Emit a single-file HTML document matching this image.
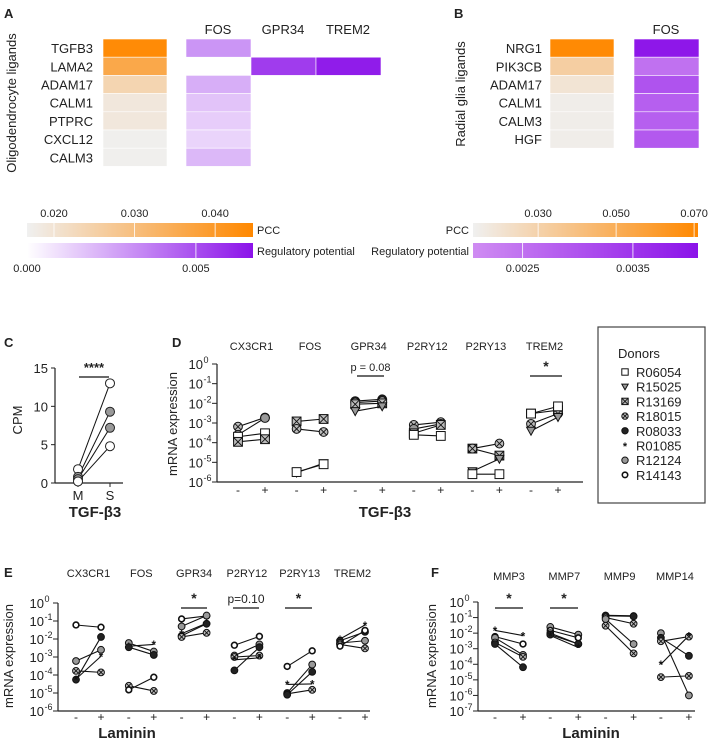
<!DOCTYPE html>
<html><head><meta charset="utf-8"><style>
body{margin:0;background:#fff}
svg{display:block;font-family:"Liberation Sans",Arial,sans-serif}
</style></head><body>
<svg id="fig" width="708" height="744" viewBox="0 0 708 744" xmlns="http://www.w3.org/2000/svg">
<g id="root"></g>
</svg>
<script>
// ---------- Panel A/B heatmap data ----------
const aLigands = ["TGFB3","LAMA2","ADAM17","CALM1","PTPRC","CXCL12","CALM3"];
const aPCC = [0.044,0.036,0.024,0.019,0.019,0.017,0.017];
const aTargets = ["FOS","GPR34","TREM2"];
const aFOS = [0.0030,null,0.0023,0.0017,0.0014,0.0012,0.0020];
const aGPR34 = [null,0.0055,null,null,null,null,null];
const aTREM2 = [null,0.0064,null,null,null,null,null];
const aPccTicks = [0.020,0.030,0.040];
const aRegTicks = [0.000,0.005];
const bLigands = ["NRG1","PIK3CB","ADAM17","CALM1","CALM3","HGF"];
const bPCC = [0.070,0.032,0.020,0.015,0.015,0.015];
const bFOS = [0.0040,0.0025,0.0030,0.0028,0.0028,0.0029];
const bPccTicks = [0.030,0.050,0.070];
const bRegTicks = [0.0025,0.0035];
// ---------- Panel C ----------
const cCats = ["M","S"];
const cM = [1.8,0.8,0.5,0.2];
const cS = [13,9.3,7.2,4.8];
const cFill = ["#fff","#999","#999","#fff"];
const cTicks = [0,5,10,15];
// ---------- Donors ----------
const donors = ["R06054","R15025","R13169","R18015","R08033","R01085","R12124","R14143"];
// ---------- Panel D (TGF-b3) ----------
const dGenes = ["CX3CR1","FOS","GPR34","P2RY12","P2RY13","TREM2"];
const dDonor = [[3,6,0,2],[2,3,1,0],[4,3,2,1],[3,6,2,0],[2,3,1,0],[2,3,0,1]];
const dMinus = [[6.5e-4,2.5e-4,2e-4,1.1e-4],[1.2e-3,5e-4,3e-6,3.2e-6],[1.3e-2,1.1e-2,9e-3,4e-3],[8e-4,5e-4,3e-4,2.5e-4],[5e-5,5e-5,3.5e-6,2.5e-6],[3e-3,9e-4,3e-3,4e-4]];
const dPlus  = [[1.9e-3,1.8e-3,3e-4,1.5e-4],[1.6e-3,3.5e-4,9e-6,8e-6],[1.6e-2,1.3e-2,1e-2,7e-3],[1.1e-3,9e-4,8e-4,2.2e-4],[2.2e-5,9e-5,1.5e-5,2.5e-6],[4.5e-3,3e-3,7e-3,2e-3]];
// ---------- Panel E (Laminin) ----------
const eGenes = ["CX3CR1","FOS","GPR34","P2RY12","P2RY13","TREM2"];
const eDonor = [[7,6,3,4,5],[6,5,4,3,7],[7,6,5,4,3],[7,6,3,5,4],[7,6,3,5,4],[5,4,6,3,7]];
const eMinus = [[0.06,6e-4,1.7e-4,5.5e-5,6e-5],[6e-3,4e-3,3.5e-3,2.5e-5,1.5e-5],[0.13,0.05,0.02,0.015,0.013],[4.5e-3,1.2e-3,1e-3,7e-4,1.8e-4],[3e-4,1e-5,9e-6,3e-5,8e-6],[0.01,0.008,0.006,0.005,0.004]];
const ePlus  = [[0.045,2.5e-3,1.4e-4,1.3e-2,1.1e-3],[2e-3,5e-3,1.3e-3,1.3e-5,7.5e-5],[0.19,0.2,0.075,0.07,0.022],[1.4e-2,5e-3,1.2e-3,9e-4,3.5e-3],[2.2e-3,3.8e-4,1.5e-5,3.2e-5,1.5e-4],[0.06,0.025,0.008,0.003,0.03]];
// ---------- Panel F (Laminin, MMPs) ----------
const fGenes = ["MMP3","MMP7","MMP9","MMP14"];
const fDonor = [[5,7,6,3,4],[6,7,3,4,5],[7,4,3,6,3],[6,4,3,5,3]];
const fMinus = [[0.015,0.006,0.005,0.0025,0.002],[0.025,0.015,0.01,0.008,0.007],[0.14,0.13,0.1,0.08,0.03],[0.01,0.005,0.003,1e-4,1.5e-5]];
const fPlus  = [[0.007,0.002,4e-4,3e-4,6.5e-5],[0.008,0.005,0.002,0.002,0.0012],[0.13,0.12,0.04,0.002,5e-4],[1e-6,3.5e-4,0.006,0.007,1.8e-5]];

const NS="http://www.w3.org/2000/svg";
const root=document.getElementById('root');
function el(tag,attrs,parent,text){const e=document.createElementNS(NS,tag);for(const k in attrs)e.setAttribute(k,attrs[k]);if(text!==undefined)e.textContent=text;(parent||root).appendChild(e);return e;}
function mix(c1,c2,t){t=Math.max(0,Math.min(1,t));const a=[1,3,5].map(i=>parseInt(c1.substr(i,2),16)),b=[1,3,5].map(i=>parseInt(c2.substr(i,2),16));return "rgb("+a.map((v,i)=>Math.round(v+(b[i]-v)*t)).join(",")+")";}
function txt(x,y,s,size,anchor,name,extra){const t=el('text',Object.assign({x:x,y:y,'font-size':size,'text-anchor':anchor||'start',fill:'#222'},extra||{}),root,s);return t;}

// ===== Panel A =====
txt(4,18,"A",13,'start','panel-a-label',{'font-weight':'bold'});
txt(454,18,"B",13,'start','panel-b-label',{'font-weight':'bold'});
const rowH=18.2, rowTop=39;
const aPccLo=0.01665,aPccHi=0.0447,aRegHi=0.00669;
aLigands.forEach((g,i)=>{
  const y=rowTop+i*rowH;
  txt(93,y+rowH/2+5,g,13,'end','a-row-label');
  const r=el('rect',{x:103,y:y,width:64,height:rowH,fill:mix("#f0f0f0","#ff8800",(aPCC[i]-aPccLo)/(aPccHi-aPccLo)),stroke:'#fff','stroke-width':0.6});
  
  [aFOS,aGPR34,aTREM2].forEach((arr,j)=>{
    if(arr[i]===null)return;
    const c=el('rect',{x:186+j*65,y:y,width:65,height:rowH,fill:mix("#ffffff","#8b12e9",arr[i]/aRegHi),stroke:'#fff','stroke-width':0.6});
    
  });
});
aTargets.forEach((t,j)=>txt(218+j*65,34,t,13,'middle','a-target-label'));
txt(0,0,"Oligodendrocyte ligands",13,'middle','a-y-axis-title',{transform:'translate(16,103) rotate(-90)'});
(function(){
  const x0=27,x1=253;
  const g=el('defs',{});
  const lg=el('linearGradient',{id:'ga1'},g);el('stop',{offset:0,'stop-color':'#f0f0f0'},lg);el('stop',{offset:1,'stop-color':'#ff8800'},lg);
  const lg2=el('linearGradient',{id:'ga2'},g);el('stop',{offset:0,'stop-color':'#ffffff'},lg2);el('stop',{offset:1,'stop-color':'#8b12e9'},lg2);
  const b1=el('rect',{x:x0,y:223,width:x1-x0,height:14,fill:'url(#ga1)'});
  const b2=el('rect',{x:x0,y:243,width:x1-x0,height:15,fill:'url(#ga2)'});
  const px=v=>x0+(v-aPccLo)/(aPccHi-aPccLo)*(x1-x0);
  aPccTicks.forEach(v=>{txt(px(v),217,v.toFixed(3),11,'middle','a-pcc-tick');el('line',{x1:px(v),x2:px(v),y1:223,y2:237,stroke:'#fff','stroke-width':0.8});});
  const rx=v=>x0+v/aRegHi*(x1-x0);
  aRegTicks.forEach(v=>{txt(rx(v),272,v.toFixed(3),11,'middle','a-reg-tick');el('line',{x1:rx(v),x2:rx(v),y1:243,y2:258,stroke:'#fff','stroke-width':0.8});});
  txt(257,234,"PCC",11,'start','a-pcc-title');
  txt(257,255,"Regulatory potential",11,'start','a-reg-title');
})();

// ===== Panel B =====
const bPccLo=0.0133,bPccHi=0.071,bRegLo=0.00205,bRegHi=0.00409;
bLigands.forEach((g,i)=>{
  const y=rowTop+i*rowH;
  txt(542,y+rowH/2+5,g,13,'end','b-row-label');
  const r=el('rect',{x:550,y:y,width:64,height:rowH,fill:mix("#f0f0f0","#ff8800",(bPCC[i]-bPccLo)/(bPccHi-bPccLo)),stroke:'#fff','stroke-width':0.6});
  
  const c=el('rect',{x:634,y:y,width:65,height:rowH,fill:mix("#cf8cf2","#8b12e9",(bFOS[i]-bRegLo)/(bRegHi-bRegLo)),stroke:'#fff','stroke-width':0.6});
  
});
txt(666,34,"FOS",13,'middle','b-target-label');
txt(0,0,"Radial glia ligands",13,'middle','b-y-axis-title',{transform:'translate(465,94) rotate(-90)'});
(function(){
  const x0=473,x1=698;
  const g=el('defs',{});
  const lg=el('linearGradient',{id:'gb1'},g);el('stop',{offset:0,'stop-color':'#f0f0f0'},lg);el('stop',{offset:1,'stop-color':'#ff8800'},lg);
  const lg2=el('linearGradient',{id:'gb2'},g);el('stop',{offset:0,'stop-color':'#cf8cf2'},lg2);el('stop',{offset:1,'stop-color':'#8b12e9'},lg2);
  const b1=el('rect',{x:x0,y:223,width:x1-x0,height:14,fill:'url(#gb1)'});
  const b2=el('rect',{x:x0,y:243,width:x1-x0,height:15,fill:'url(#gb2)'});
  const px=v=>x0+(v-bPccLo)/(bPccHi-bPccLo)*(x1-x0);
  bPccTicks.forEach(v=>{txt(px(v),217,v.toFixed(3),11,'middle','b-pcc-tick');el('line',{x1:px(v),x2:px(v),y1:223,y2:237,stroke:'#fff','stroke-width':0.8});});
  const rx=v=>x0+(v-bRegLo)/(bRegHi-bRegLo)*(x1-x0);
  bRegTicks.forEach(v=>{txt(rx(v),272,v.toFixed(4),11,'middle','b-reg-tick');el('line',{x1:rx(v),x2:rx(v),y1:243,y2:258,stroke:'#fff','stroke-width':0.8});});
  txt(469,234,"PCC",11,'end','b-pcc-title');
  txt(469,255,"Regulatory potential",11,'end','b-reg-title');
})();

// ===== Marker drawing =====
function marker(x,y,d,r){
  const g=el('g',{});
  
  
  const s='#111';
  if(d===0){el('rect',{x:x-r,y:y-r,width:2*r,height:2*r,fill:'#fff',stroke:s,'stroke-width':1},g);}
  else if(d===1){el('polygon',{points:`${x-r},${y-r*0.8} ${x+r},${y-r*0.8} ${x},${y+r}`,fill:'#999',stroke:s,'stroke-width':1},g);}
  else if(d===2){el('rect',{x:x-r,y:y-r,width:2*r,height:2*r,fill:'#bbb',stroke:s,'stroke-width':1},g);el('path',{d:`M${x-r} ${y-r}L${x+r} ${y+r}M${x+r} ${y-r}L${x-r} ${y+r}`,stroke:s,'stroke-width':0.9},g);}
  else if(d===3){el('circle',{cx:x,cy:y,r:r,fill:'#bbb',stroke:s,'stroke-width':1},g);const k=r*0.7;el('path',{d:`M${x-k} ${y-k}L${x+k} ${y+k}M${x+k} ${y-k}L${x-k} ${y+k}`,stroke:s,'stroke-width':0.9},g);}
  else if(d===4){el('circle',{cx:x,cy:y,r:r,fill:'#222',stroke:s,'stroke-width':1},g);}
  else if(d===5){el('text',{x:x,y:y+r*1.4,'font-size':r*3.4,'text-anchor':'middle',fill:'#111','font-weight':'bold'},g,'*');}
  else if(d===6){el('circle',{cx:x,cy:y,r:r,fill:'#999',stroke:s,'stroke-width':1},g);}
  else {el('circle',{cx:x,cy:y,r:r*0.85,fill:'#fff',stroke:s,'stroke-width':1.6},g);}
  return g;
}
function logAxis(x0,x1,yTop,yBot,topExp,botExp,name){
  const dec=(yBot-yTop)/(topExp-botExp);
  const ax=el('line',{x1:x0,x2:x0,y1:yTop,y2:yBot,stroke:'#222','stroke-width':1.2});
  const bx=el('line',{x1:x0,x2:x1,y1:yBot,y2:yBot,stroke:'#222','stroke-width':1.2});
  for(let e=topExp;e>=botExp;e--){
    const y=yTop+(topExp-e)*dec;
    el('line',{x1:x0-5,x2:x0,y1:y,y2:y,stroke:'#222','stroke-width':1});
    const t=el('text',{x:x0-14,y:y+5,'font-size':13,'text-anchor':'end',fill:'#222'},root,'10');
    
    el('text',{x:x0-13.5,y:y-1,'font-size':9,'text-anchor':'start',fill:'#222'},root,String(e));
  }
  return v=>yTop+(topExp-Math.log10(v))*dec;
}
function pairedPanel(genes,donorIdx,minus,plus,xMinus0,xPlus0,step,ys,r,name,headY){
  genes.forEach((g,gi)=>{
    const xm=xMinus0+gi*step, xp=xPlus0+gi*step;
    txt((xm+xp)/2,headY,g,11,'middle',name+'-gene-label');
    minus[gi].forEach((v,k)=>{
      const l=el('line',{x1:xm,y1:ys(v),x2:xp,y2:ys(plus[gi][k]),stroke:'#111','stroke-width':1.1});
      
    });
    minus[gi].forEach((v,k)=>{marker(xm,ys(v),donorIdx[gi][k],r);marker(xp,ys(plus[gi][k]),donorIdx[gi][k],r);});
  });
}
function signs(xMinus0,xPlus0,step,n,y,name){
  for(let i=0;i<n;i++){txt(xMinus0+i*step,y,"-",12,'middle',name+'-minus-label');txt(xPlus0+i*step,y,"+",12,'middle',name+'-plus-label');}
}
function sigBar(x1,x2,y,label,size,name){
  const l=el('line',{x1:x1,x2:x2,y1:y,y2:y,stroke:'#111','stroke-width':1.2});
  txt((x1+x2)/2,y-5,label,size,'middle',name+'-label',label.indexOf('*')>=0?{'font-weight':'bold'}:{});
}

// ===== Panel C =====
txt(4,347,"C",13,'start','panel-c-label',{'font-weight':'bold'});
(function(){
  const x0=55,x1=123,y0=483,yTop=368;
  const ys=v=>y0-(v/15)*(y0-yTop);
  const xs={M:78,S:110};
  const ax=el('line',{x1:x0,x2:x0,y1:yTop,y2:y0,stroke:'#222','stroke-width':1.2});
  const bx=el('line',{x1:x0,x2:x1,y1:y0,y2:y0,stroke:'#222','stroke-width':1.2});
  cTicks.forEach(v=>{el('line',{x1:x0-4,x2:x0,y1:ys(v),y2:ys(v),stroke:'#222'});txt(x0-7,ys(v)+5,String(v),13,'end','c-y-tick');});
  cCats.forEach(c=>{el('line',{x1:xs[c],x2:xs[c],y1:y0,y2:y0+4,stroke:'#222'});txt(xs[c],y0+17,c,13,'middle','c-x-tick');});
  cM.forEach((v,i)=>{const l=el('line',{x1:xs.M,y1:ys(v),x2:xs.S,y2:ys(cS[i]),stroke:'#111','stroke-width':1});});
  cM.forEach((v,i)=>{[[xs.M,v],[xs.S,cS[i]]].forEach(p=>{const c=el('circle',{cx:p[0],cy:ys(p[1]),r:4.5,fill:cFill[i],stroke:'#222','stroke-width':1});});});
  sigBar(79,109,377,"****",13,'c-significance');
  txt(0,0,"CPM",13,'middle','c-y-axis-title',{transform:'translate(22,420) rotate(-90)'});
  txt(95,517,"TGF-β3",15,'middle','c-x-axis-title',{'font-weight':'bold'});
})();

// ===== Panel D =====
txt(172,347,"D",13,'start','panel-d-label',{'font-weight':'bold'});
(function(){
  const ys=logAxis(217,583,364,482,0,-6,'d');
  pairedPanel(dGenes,dDonor,dMinus,dPlus,238,265,58.6,ys,4.4,'d',350);
  signs(238,265,58.6,6,494,'d');
  sigBar(357,384,376,"p = 0.08",11,'d-gpr34-pvalue');
  sigBar(530,562,376,"*",14,'d-trem2-significance');
  txt(0,0,"mRNA expression",13,'middle','d-y-axis-title',{transform:'translate(177,424) rotate(-90)'});
  txt(385,517,"TGF-β3",15,'middle','d-x-axis-title',{'font-weight':'bold'});
})();
// Legend
(function(){
  const b=el('rect',{x:598,y:327,width:107,height:176,fill:'#fff',stroke:'#444','stroke-width':1.2});
  txt(618,358,"Donors",13,'start','legend-title');
  donors.forEach((d,i)=>{const y=372+i*14.7;marker(625,y,i,3.2);txt(636,y+5,d,13,'start','legend-entry');});
})();

// ===== Panel E =====
txt(4,577,"E",13,'start','panel-e-label',{'font-weight':'bold'});
(function(){
  const ys=logAxis(58,370,603,711,0,-6,'e');
  pairedPanel(eGenes,eDonor,eMinus,ePlus,76,101,52.8,ys,3.4,'e',577);
  signs(76,101,52.8,6,721,'e');
  sigBar(181,207,608,"*",14,'e-gpr34-significance');
  sigBar(233,259,608,"p=0.10",12,'e-p2ry12-pvalue');
  sigBar(285,312,608,"*",14,'e-p2ry13-significance');
  txt(0,0,"mRNA expression",13,'middle','e-y-axis-title',{transform:'translate(13,656) rotate(-90)'});
  txt(127,738,"Laminin",15,'middle','e-x-axis-title',{'font-weight':'bold'});
})();

// ===== Panel F =====
txt(431,577,"F",13,'start','panel-f-label',{'font-weight':'bold'});
(function(){
  const ys=logAxis(478,695,602,711,0,-7,'f');
  pairedPanel(fGenes,fDonor,fMinus,fPlus,495,523,55.3,ys,3.4,'f',580);
  signs(495,523,55.3,4,721,'f');
  sigBar(495,523,608,"*",14,'f-mmp3-significance');
  sigBar(550,578,608,"*",14,'f-mmp7-significance');
  txt(0,0,"mRNA expression",13,'middle','f-y-axis-title',{transform:'translate(436,656) rotate(-90)'});
  txt(591,738,"Laminin",15,'middle','f-x-axis-title',{'font-weight':'bold'});
})();
</script>
</body></html>
